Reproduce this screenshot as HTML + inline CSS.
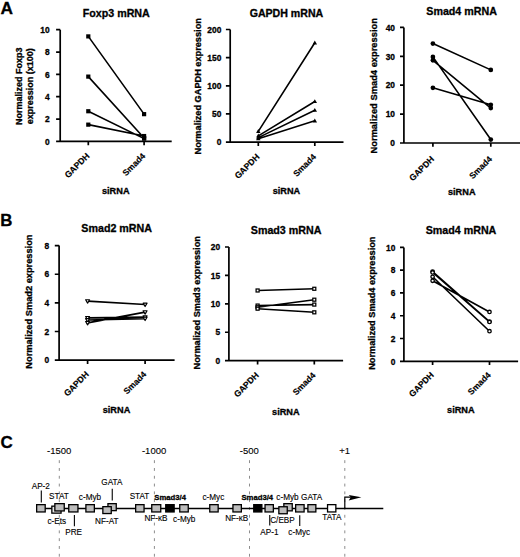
<!DOCTYPE html>
<html><head><meta charset="utf-8"><style>
html,body{margin:0;padding:0;background:#fff;}
svg{display:block;}
text{font-family:"Liberation Sans", sans-serif;fill:#000;stroke:#000;stroke-width:0.3px;}
</style></head><body>
<svg width="520" height="557" viewBox="0 0 520 557">
<rect width="520" height="557" fill="#fff"/>
<text x="0.6" y="14.1" font-size="17.3" font-weight="bold">A</text>
<text x="0.2" y="226.1" font-size="16.8" font-weight="bold">B</text>
<text x="0.4" y="447.5" font-size="17" font-weight="bold">C</text>
<path d="M60.2,29.7 V141.4 M56.1,141.4 H171.7" stroke="#000" stroke-width="1.7" fill="none"/>
<path d="M56.1,119.06 H60.2 M56.1,96.72 H60.2 M56.1,74.38 H60.2 M56.1,52.04 H60.2 M56.1,29.7 H60.2 " stroke="#000" stroke-width="1.7" fill="none"/>
<path d="M88.3,141.4 V145.2 M144.1,141.4 V145.2" stroke="#000" stroke-width="1.7" fill="none"/>
<text x="49.6" y="144.6" font-size="8.4" font-weight="bold" text-anchor="end">0</text>
<text x="49.6" y="122.26" font-size="8.4" font-weight="bold" text-anchor="end">2</text>
<text x="49.6" y="99.92" font-size="8.4" font-weight="bold" text-anchor="end">4</text>
<text x="49.6" y="77.58" font-size="8.4" font-weight="bold" text-anchor="end">6</text>
<text x="49.6" y="55.24" font-size="8.4" font-weight="bold" text-anchor="end">8</text>
<text x="49.6" y="32.9" font-size="8.4" font-weight="bold" text-anchor="end">10</text>
<text x="116.25" y="17" font-size="10.7" font-weight="bold" text-anchor="middle">Foxp3 mRNA</text>
<text transform="translate(21.8,86.3) rotate(-90)" font-size="9.0" font-weight="bold" text-anchor="middle">Normalized Foxp3</text>
<text transform="translate(32.6,86.3) rotate(-90)" font-size="9.0" font-weight="bold" text-anchor="middle">expression (x100)</text>
<text transform="translate(90.1,156.5) rotate(-45)" font-size="8.6" font-weight="bold" text-anchor="end" style="stroke-width:0.15px">GAPDH</text>
<text transform="translate(145.9,156.5) rotate(-45)" font-size="8.6" font-weight="bold" text-anchor="end" style="stroke-width:0.15px">Smad4</text>
<text x="115.75" y="193.5" font-size="9.2" font-weight="bold" text-anchor="middle">siRNA</text>
<path d="M88.3,36.4 L144.1,114.15 M88.3,76.61 L144.1,138.05 M88.3,111.24 L144.1,138.61 M88.3,124.65 L144.1,136.04 " stroke="#000" stroke-width="1.6" fill="none"/>
<rect x="86.2" y="34.3" width="4.2" height="4.2" fill="#000"/>
<rect x="142" y="112.05" width="4.2" height="4.2" fill="#000"/>
<rect x="86.2" y="74.51" width="4.2" height="4.2" fill="#000"/>
<rect x="142" y="135.95" width="4.2" height="4.2" fill="#000"/>
<rect x="86.2" y="109.14" width="4.2" height="4.2" fill="#000"/>
<rect x="142" y="136.51" width="4.2" height="4.2" fill="#000"/>
<rect x="86.2" y="122.55" width="4.2" height="4.2" fill="#000"/>
<rect x="142" y="133.94" width="4.2" height="4.2" fill="#000"/>
<path d="M230.2,29.5 V142.1 M225.9,142.1 H343.5" stroke="#000" stroke-width="1.7" fill="none"/>
<path d="M225.9,113.95 H230.2 M225.9,85.8 H230.2 M225.9,57.65 H230.2 M225.9,29.5 H230.2 " stroke="#000" stroke-width="1.7" fill="none"/>
<path d="M258.3,142.1 V145.9 M314.8,142.1 V145.9" stroke="#000" stroke-width="1.7" fill="none"/>
<text x="221.3" y="145.3" font-size="8.4" font-weight="bold" text-anchor="end">0</text>
<text x="221.3" y="117.15" font-size="8.4" font-weight="bold" text-anchor="end">50</text>
<text x="221.3" y="89" font-size="8.4" font-weight="bold" text-anchor="end">100</text>
<text x="221.3" y="60.85" font-size="8.4" font-weight="bold" text-anchor="end">150</text>
<text x="221.3" y="32.7" font-size="8.4" font-weight="bold" text-anchor="end">200</text>
<text x="286.45" y="17.2" font-size="10.6" font-weight="bold" text-anchor="middle">GAPDH mRNA</text>
<text transform="translate(200.5,86.3) rotate(-90)" font-size="9.2" font-weight="bold" text-anchor="middle">Normalized GAPDH expression</text>
<text transform="translate(260.1,157.4) rotate(-45)" font-size="8.6" font-weight="bold" text-anchor="end" style="stroke-width:0.15px">GAPDH</text>
<text transform="translate(316.6,157.4) rotate(-45)" font-size="8.6" font-weight="bold" text-anchor="end" style="stroke-width:0.15px">Smad4</text>
<text x="286.45" y="194" font-size="9.2" font-weight="bold" text-anchor="middle">siRNA</text>
<path d="M258.3,131.4 L314.8,42.79 M258.3,135.91 L314.8,101.51 M258.3,137.6 L314.8,110.18 M258.3,138.72 L314.8,120.82 " stroke="#000" stroke-width="1.6" fill="none"/>
<path d="M258.3,129.1 L260.5,133 L256.1,133 Z" fill="#000"/>
<path d="M314.8,40.49 L317,44.39 L312.6,44.39 Z" fill="#000"/>
<path d="M258.3,133.61 L260.5,137.51 L256.1,137.51 Z" fill="#000"/>
<path d="M314.8,99.21 L317,103.11 L312.6,103.11 Z" fill="#000"/>
<path d="M258.3,135.3 L260.5,139.2 L256.1,139.2 Z" fill="#000"/>
<path d="M314.8,107.88 L317,111.78 L312.6,111.78 Z" fill="#000"/>
<path d="M258.3,136.42 L260.5,140.32 L256.1,140.32 Z" fill="#000"/>
<path d="M314.8,118.52 L317,122.42 L312.6,122.42 Z" fill="#000"/>
<path d="M403.9,27.4 V143 M400,143 H520" stroke="#000" stroke-width="1.7" fill="none"/>
<path d="M400,114.1 H403.9 M400,85.2 H403.9 M400,56.3 H403.9 M400,27.4 H403.9 " stroke="#000" stroke-width="1.7" fill="none"/>
<path d="M432.9,143 V146.8 M490.8,143 V146.8" stroke="#000" stroke-width="1.7" fill="none"/>
<text x="395" y="146.2" font-size="8.4" font-weight="bold" text-anchor="end">0</text>
<text x="395" y="117.3" font-size="8.4" font-weight="bold" text-anchor="end">10</text>
<text x="395" y="88.4" font-size="8.4" font-weight="bold" text-anchor="end">20</text>
<text x="395" y="59.5" font-size="8.4" font-weight="bold" text-anchor="end">30</text>
<text x="395" y="30.6" font-size="8.4" font-weight="bold" text-anchor="end">40</text>
<text x="461.6" y="15.1" font-size="10.7" font-weight="bold" text-anchor="middle">Smad4 mRNA</text>
<text transform="translate(377.3,85.8) rotate(-90)" font-size="9.35" font-weight="bold" text-anchor="middle">Normalized Smad4 expression</text>
<text transform="translate(434.7,159.6) rotate(-45)" font-size="8.6" font-weight="bold" text-anchor="end" style="stroke-width:0.15px">GAPDH</text>
<text transform="translate(492.6,159.6) rotate(-45)" font-size="8.6" font-weight="bold" text-anchor="end" style="stroke-width:0.15px">Smad4</text>
<text x="461.75" y="195.2" font-size="9.2" font-weight="bold" text-anchor="middle">siRNA</text>
<path d="M432.9,43.58 L490.8,69.88 M432.9,56.88 L490.8,139.53 M432.9,60.35 L490.8,108.03 M432.9,87.8 L490.8,104.85 " stroke="#000" stroke-width="1.6" fill="none"/>
<circle cx="432.9" cy="43.58" r="2.35" fill="#000"/>
<circle cx="490.8" cy="69.88" r="2.35" fill="#000"/>
<circle cx="432.9" cy="56.88" r="2.35" fill="#000"/>
<circle cx="490.8" cy="139.53" r="2.35" fill="#000"/>
<circle cx="432.9" cy="60.35" r="2.35" fill="#000"/>
<circle cx="490.8" cy="108.03" r="2.35" fill="#000"/>
<circle cx="432.9" cy="87.8" r="2.35" fill="#000"/>
<circle cx="490.8" cy="104.85" r="2.35" fill="#000"/>
<path d="M59.1,245.6 V360.1 M54.8,360.1 H174.6" stroke="#000" stroke-width="1.7" fill="none"/>
<path d="M54.8,331.48 H59.1 M54.8,302.85 H59.1 M54.8,274.23 H59.1 M54.8,245.6 H59.1 " stroke="#000" stroke-width="1.7" fill="none"/>
<path d="M87.6,360.1 V363.9 M145.1,360.1 V363.9" stroke="#000" stroke-width="1.7" fill="none"/>
<text x="49.2" y="363.3" font-size="8.4" font-weight="bold" text-anchor="end">0</text>
<text x="49.2" y="334.68" font-size="8.4" font-weight="bold" text-anchor="end">2</text>
<text x="49.2" y="306.05" font-size="8.4" font-weight="bold" text-anchor="end">4</text>
<text x="49.2" y="277.43" font-size="8.4" font-weight="bold" text-anchor="end">6</text>
<text x="49.2" y="248.8" font-size="8.4" font-weight="bold" text-anchor="end">8</text>
<text x="116.7" y="232" font-size="10.7" font-weight="bold" text-anchor="middle">Smad2 mRNA</text>
<text transform="translate(31.9,301.6) rotate(-90)" font-size="9.25" font-weight="bold" text-anchor="middle">Normalized Smad2 expression</text>
<text transform="translate(89.4,374.9) rotate(-45)" font-size="8.6" font-weight="bold" text-anchor="end" style="stroke-width:0.15px">GAPDH</text>
<text transform="translate(146.9,374.9) rotate(-45)" font-size="8.6" font-weight="bold" text-anchor="end" style="stroke-width:0.15px">Smad4</text>
<text x="116.5" y="413.2" font-size="9.2" font-weight="bold" text-anchor="middle">siRNA</text>
<path d="M87.6,301.13 L145.1,304.57 M87.6,317.88 L145.1,317.16 M87.6,320.03 L145.1,318.59 M87.6,322.89 L145.1,312.15 " stroke="#000" stroke-width="1.6" fill="none"/>
<path d="M85.65,299.73 L89.55,299.73 L87.6,303.08 Z" fill="#fff" stroke="#000" stroke-width="1.2" stroke-linejoin="round"/>
<path d="M143.15,303.17 L147.05,303.17 L145.1,306.52 Z" fill="#fff" stroke="#000" stroke-width="1.2" stroke-linejoin="round"/>
<path d="M85.65,316.48 L89.55,316.48 L87.6,319.83 Z" fill="#fff" stroke="#000" stroke-width="1.2" stroke-linejoin="round"/>
<path d="M143.15,315.76 L147.05,315.76 L145.1,319.11 Z" fill="#fff" stroke="#000" stroke-width="1.2" stroke-linejoin="round"/>
<path d="M85.65,318.63 L89.55,318.63 L87.6,321.98 Z" fill="#fff" stroke="#000" stroke-width="1.2" stroke-linejoin="round"/>
<path d="M143.15,317.19 L147.05,317.19 L145.1,320.54 Z" fill="#fff" stroke="#000" stroke-width="1.2" stroke-linejoin="round"/>
<path d="M85.65,321.49 L89.55,321.49 L87.6,324.84 Z" fill="#fff" stroke="#000" stroke-width="1.2" stroke-linejoin="round"/>
<path d="M143.15,310.75 L147.05,310.75 L145.1,314.1 Z" fill="#fff" stroke="#000" stroke-width="1.2" stroke-linejoin="round"/>
<path d="M228.9,247 V360.7 M225,360.7 H343.1" stroke="#000" stroke-width="1.7" fill="none"/>
<path d="M225,332.27 H228.9 M225,303.85 H228.9 M225,275.43 H228.9 M225,247 H228.9 " stroke="#000" stroke-width="1.7" fill="none"/>
<path d="M257.6,360.7 V364.5 M314.3,360.7 V364.5" stroke="#000" stroke-width="1.7" fill="none"/>
<text x="220.2" y="363.9" font-size="8.4" font-weight="bold" text-anchor="end">0</text>
<text x="220.2" y="335.47" font-size="8.4" font-weight="bold" text-anchor="end">5</text>
<text x="220.2" y="307.05" font-size="8.4" font-weight="bold" text-anchor="end">10</text>
<text x="220.2" y="278.62" font-size="8.4" font-weight="bold" text-anchor="end">15</text>
<text x="220.2" y="250.2" font-size="8.4" font-weight="bold" text-anchor="end">20</text>
<text x="286.1" y="233.5" font-size="10.7" font-weight="bold" text-anchor="middle">Smad3 mRNA</text>
<text transform="translate(199.7,302.75) rotate(-90)" font-size="9.2" font-weight="bold" text-anchor="middle">Normalized Smad3 expression</text>
<text transform="translate(259.4,375.8) rotate(-45)" font-size="8.6" font-weight="bold" text-anchor="end" style="stroke-width:0.15px">GAPDH</text>
<text transform="translate(316.1,375.8) rotate(-45)" font-size="8.6" font-weight="bold" text-anchor="end" style="stroke-width:0.15px">Smad4</text>
<text x="285.85" y="415.1" font-size="9.2" font-weight="bold" text-anchor="middle">siRNA</text>
<path d="M257.6,290.49 L314.3,288.78 M257.6,305.56 L314.3,304.59 M257.6,307.26 L314.3,299.7 M257.6,308.68 L314.3,312.32 " stroke="#000" stroke-width="1.6" fill="none"/>
<rect x="256.1" y="288.99" width="3" height="3" fill="#fff" stroke="#000" stroke-width="1.25"/>
<rect x="312.8" y="287.28" width="3" height="3" fill="#fff" stroke="#000" stroke-width="1.25"/>
<rect x="256.1" y="304.06" width="3" height="3" fill="#fff" stroke="#000" stroke-width="1.25"/>
<rect x="312.8" y="303.09" width="3" height="3" fill="#fff" stroke="#000" stroke-width="1.25"/>
<rect x="256.1" y="305.76" width="3" height="3" fill="#fff" stroke="#000" stroke-width="1.25"/>
<rect x="312.8" y="298.2" width="3" height="3" fill="#fff" stroke="#000" stroke-width="1.25"/>
<rect x="256.1" y="307.18" width="3" height="3" fill="#fff" stroke="#000" stroke-width="1.25"/>
<rect x="312.8" y="310.82" width="3" height="3" fill="#fff" stroke="#000" stroke-width="1.25"/>
<path d="M403.9,247.4 V361.3 M400,361.3 H518.1" stroke="#000" stroke-width="1.7" fill="none"/>
<path d="M400,338.52 H403.9 M400,315.74 H403.9 M400,292.96 H403.9 M400,270.18 H403.9 M400,247.4 H403.9 " stroke="#000" stroke-width="1.7" fill="none"/>
<path d="M432.6,361.3 V365.1 M489.5,361.3 V365.1" stroke="#000" stroke-width="1.7" fill="none"/>
<text x="395.3" y="364.5" font-size="8.4" font-weight="bold" text-anchor="end">0</text>
<text x="395.3" y="341.72" font-size="8.4" font-weight="bold" text-anchor="end">2</text>
<text x="395.3" y="318.94" font-size="8.4" font-weight="bold" text-anchor="end">4</text>
<text x="395.3" y="296.16" font-size="8.4" font-weight="bold" text-anchor="end">6</text>
<text x="395.3" y="273.38" font-size="8.4" font-weight="bold" text-anchor="end">8</text>
<text x="395.3" y="250.6" font-size="8.4" font-weight="bold" text-anchor="end">10</text>
<text x="461" y="233.8" font-size="10.7" font-weight="bold" text-anchor="middle">Smad4 mRNA</text>
<text transform="translate(375.3,303.15) rotate(-90)" font-size="9.2" font-weight="bold" text-anchor="middle">Normalized Smad4 expression</text>
<text transform="translate(434.4,375.5) rotate(-45)" font-size="8.6" font-weight="bold" text-anchor="end" style="stroke-width:0.15px">GAPDH</text>
<text transform="translate(491.3,375.5) rotate(-45)" font-size="8.6" font-weight="bold" text-anchor="end" style="stroke-width:0.15px">Smad4</text>
<text x="460.85" y="412.7" font-size="9.2" font-weight="bold" text-anchor="middle">siRNA</text>
<path d="M432.6,271.55 L489.5,321.55 M432.6,272.46 L489.5,322 M432.6,276.79 L489.5,331.23 M432.6,280.77 L489.5,311.98 " stroke="#000" stroke-width="1.6" fill="none"/>
<circle cx="432.6" cy="271.55" r="1.72" fill="#fff" stroke="#000" stroke-width="1.3"/>
<circle cx="489.5" cy="321.55" r="1.72" fill="#fff" stroke="#000" stroke-width="1.3"/>
<circle cx="432.6" cy="272.46" r="1.72" fill="#fff" stroke="#000" stroke-width="1.3"/>
<circle cx="489.5" cy="322" r="1.72" fill="#fff" stroke="#000" stroke-width="1.3"/>
<circle cx="432.6" cy="276.79" r="1.72" fill="#fff" stroke="#000" stroke-width="1.3"/>
<circle cx="489.5" cy="331.23" r="1.72" fill="#fff" stroke="#000" stroke-width="1.3"/>
<circle cx="432.6" cy="280.77" r="1.72" fill="#fff" stroke="#000" stroke-width="1.3"/>
<circle cx="489.5" cy="311.98" r="1.72" fill="#fff" stroke="#000" stroke-width="1.3"/>
<line x1="59.3" y1="460.2" x2="59.3" y2="557" stroke="#8c8c8c" stroke-width="1" stroke-dasharray="2.9 4.9"/>
<line x1="154.4" y1="460.2" x2="154.4" y2="557" stroke="#8c8c8c" stroke-width="1" stroke-dasharray="2.9 4.9"/>
<line x1="249.5" y1="460.2" x2="249.5" y2="557" stroke="#8c8c8c" stroke-width="1" stroke-dasharray="2.9 4.9"/>
<line x1="344.8" y1="460.2" x2="344.8" y2="557" stroke="#8c8c8c" stroke-width="1" stroke-dasharray="2.9 4.9"/>
<text x="59.15" y="454.3" font-size="9.5" text-anchor="middle" style="stroke-width:0.1px">-1500</text>
<text x="154.1" y="454.3" font-size="9.5" text-anchor="middle" style="stroke-width:0.1px">-1000</text>
<text x="249.25" y="454.3" font-size="9.5" text-anchor="middle" style="stroke-width:0.1px">-500</text>
<text x="344.55" y="454.3" font-size="9.5" text-anchor="middle" style="stroke-width:0.1px">+1</text>
<line x1="45" y1="508.5" x2="383.3" y2="508.5" stroke="#000" stroke-width="1.3"/>
<rect x="36.65" y="504.65" width="8.55" height="7.3" fill="#bdbdbd" stroke="#000" stroke-width="1.3"/>
<rect x="68.75" y="504.65" width="9.2" height="7.3" fill="#bdbdbd" stroke="#000" stroke-width="1.3"/>
<rect x="85.9" y="504.65" width="8.45" height="7.3" fill="#bdbdbd" stroke="#000" stroke-width="1.3"/>
<rect x="135.65" y="504.65" width="8.4" height="7.3" fill="#bdbdbd" stroke="#000" stroke-width="1.3"/>
<rect x="151.75" y="504.65" width="9" height="7.3" fill="#bdbdbd" stroke="#000" stroke-width="1.3"/>
<rect x="179.75" y="504.65" width="8.5" height="7.3" fill="#bdbdbd" stroke="#000" stroke-width="1.3"/>
<rect x="209.75" y="504.65" width="8.4" height="7.3" fill="#bdbdbd" stroke="#000" stroke-width="1.3"/>
<rect x="232.95" y="504.65" width="8.4" height="7.3" fill="#bdbdbd" stroke="#000" stroke-width="1.3"/>
<rect x="265.05" y="504.65" width="8.3" height="7.3" fill="#bdbdbd" stroke="#000" stroke-width="1.3"/>
<rect x="295.65" y="504.65" width="8.45" height="7.3" fill="#bdbdbd" stroke="#000" stroke-width="1.3"/>
<rect x="307.9" y="504.65" width="7.95" height="7.3" fill="#bdbdbd" stroke="#000" stroke-width="1.3"/>
<rect x="51.85" y="506.15" width="9.2" height="7" fill="#e6e6e6" stroke="#000" stroke-width="1.3"/>
<rect x="54.85" y="503.65" width="9.4" height="7.3" fill="#bdbdbd" stroke="#000" stroke-width="1.3"/>
<rect x="107.95" y="503.65" width="8.3" height="7" fill="#bdbdbd" stroke="#000" stroke-width="1.3"/>
<rect x="102.85" y="506.65" width="8.4" height="6.9" fill="#bdbdbd" stroke="#000" stroke-width="1.3"/>
<rect x="283.85" y="503.65" width="8.4" height="7.2" fill="#bdbdbd" stroke="#000" stroke-width="1.3"/>
<rect x="278.85" y="506.75" width="8.4" height="7" fill="#bdbdbd" stroke="#000" stroke-width="1.3"/>
<rect x="165.75" y="504.65" width="8.4" height="7.3" fill="#000" stroke="#000" stroke-width="1.3"/>
<rect x="253.75" y="504.65" width="8.1" height="7.3" fill="#000" stroke="#000" stroke-width="1.3"/>
<rect x="327.55" y="504.65" width="8.3" height="7.3" fill="#fff" stroke="#000" stroke-width="1.3"/>
<line x1="41.3" y1="490.6" x2="41.3" y2="502.4" stroke="#000" stroke-width="1.1"/>
<line x1="74.4" y1="515.0" x2="74.4" y2="526.3" stroke="#000" stroke-width="1.1"/>
<line x1="112.25" y1="488.8" x2="112.25" y2="500.6" stroke="#000" stroke-width="1.1"/>
<line x1="269.75" y1="515.0" x2="269.75" y2="525.6" stroke="#000" stroke-width="1.1"/>
<line x1="299.75" y1="515.2" x2="299.75" y2="526.0" stroke="#000" stroke-width="1.1"/>
<text x="40.8" y="488.55" font-size="8.2" text-anchor="middle" style="stroke-width:0.12px">AP-2</text>
<text x="58.9" y="498.85" font-size="8.2" text-anchor="middle" style="stroke-width:0.12px">STAT</text>
<text x="56.75" y="523.55" font-size="8.2" text-anchor="middle" style="stroke-width:0.12px">c-Ets</text>
<text x="73.6" y="535.45" font-size="8.2" text-anchor="middle" style="stroke-width:0.12px">PRE</text>
<text x="90.0" y="500.35" font-size="8.2" text-anchor="middle" style="stroke-width:0.12px">c-Myb</text>
<text x="111.9" y="485.45" font-size="8.2" text-anchor="middle" style="stroke-width:0.12px">GATA</text>
<text x="106.85" y="523.60" font-size="8.2" text-anchor="middle" style="stroke-width:0.12px">NF-AT</text>
<text x="139.5" y="499.35" font-size="8.2" text-anchor="middle" style="stroke-width:0.12px">STAT</text>
<text x="156.0" y="521.45" font-size="8.2" text-anchor="middle" style="stroke-width:0.12px">NF-κB</text>
<text x="184.25" y="521.65" font-size="8.2" text-anchor="middle" style="stroke-width:0.12px">c-Myb</text>
<text x="213.4" y="500.35" font-size="8.2" text-anchor="middle" style="stroke-width:0.12px">c-Myc</text>
<text x="236.75" y="521.45" font-size="8.2" text-anchor="middle" style="stroke-width:0.12px">NF-κB</text>
<text x="287.5" y="499.85" font-size="8.2" text-anchor="middle" style="stroke-width:0.12px">c-Myb</text>
<text x="269.4" y="535.45" font-size="8.2" text-anchor="middle" style="stroke-width:0.12px">AP-1</text>
<text x="282.5" y="522.95" font-size="8.2" text-anchor="middle" style="stroke-width:0.12px">C/EBP</text>
<text x="299.25" y="534.85" font-size="8.2" text-anchor="middle" style="stroke-width:0.12px">c-Myc</text>
<text x="311.6" y="499.85" font-size="8.2" text-anchor="middle" style="stroke-width:0.12px">GATA</text>
<text x="331.9" y="520.45" font-size="8.2" text-anchor="middle" style="stroke-width:0.12px">TATA</text>
<text x="170.15" y="499.8" font-size="7.7" font-weight="bold" text-anchor="middle">Smad3/4</text>
<text x="257.3" y="500.0" font-size="7.7" font-weight="bold" text-anchor="middle">Smad3/4</text>
<path d="M344.8,508.5 V497.2 H351" stroke="#000" stroke-width="1.2" fill="none"/>
<path d="M361.4,497.2 L348.7,494.9 L350.8,497.2 L348.7,500.4 Z" fill="#000"/>
</svg>
</body></html>
